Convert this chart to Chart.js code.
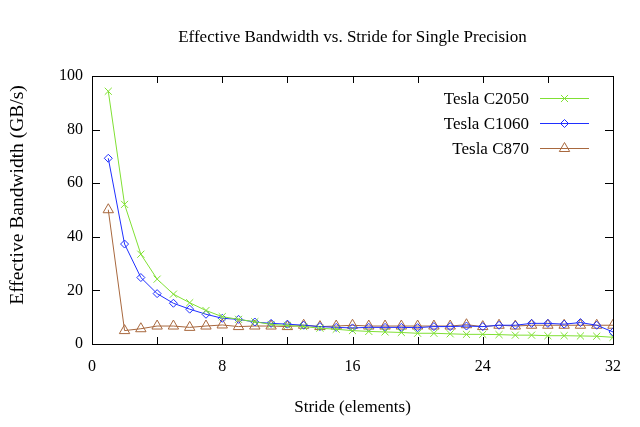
<!DOCTYPE html>
<html>
<head>
<meta charset="utf-8">
<script src="https://cdn.jsdelivr.net/npm/chart.js@4/dist/chart.umd.min.js"></script>
<style>
html,body{margin:0;padding:0;background:#fff;}
#wrap{width:640px;height:427px;}
</style>
</head>
<body>
<div id="wrap"><canvas id="c" width="640" height="427"></canvas></div>
<script>
const strides = [1,2,3,4,5,6,7,8,9,10,11,12,13,14,15,16,17,18,19,20,21,22,23,24,25,26,27,28,29,30,31,32];
const teslaC2050 = [94.3,52.1,33.5,24.2,18.6,15.4,12.5,10.2,9.2,8.3,7.3,6.9,6.5,5.9,5.5,5.0,4.7,4.5,4.3,4.0,4.0,3.8,3.6,3.6,3.5,3.3,3.3,3.1,3.1,3.0,2.9,2.5];
const teslaC1060 = [69.3,37.3,24.8,18.8,15.2,13.0,11.1,9.6,9.2,8.2,7.7,7.4,7.0,6.5,6.2,6.0,6.2,6.2,6.2,6.1,6.5,6.5,6.7,6.5,7.0,7.0,7.7,7.7,7.4,8.0,7.0,4.5];
const teslaC870 = [50.1,5.0,5.7,6.7,6.7,6.2,6.7,7.1,6.5,6.7,6.7,6.5,7.0,6.5,6.7,7.0,6.7,6.7,6.7,6.7,6.7,6.7,7.2,6.5,7.0,6.7,7.0,7.0,7.0,7.0,7.0,7.0];
const seriesLabels = ['Tesla C2050','Tesla C1060','Tesla C870'];
const xTickValues = [0,8,16,24,32];
const yTickValues = [0,20,40,60,80,100];
const yAxisTitle = 'Effective Bandwidth (GB/s)';

const FONT = 'Liberation Serif, "Times New Roman", Times, serif';
const colors = ['#80e034','#1f2fff','#a8683e'];
const styles = ['crossRot','rectRot','triangle'];
const radii = [5,4,6];

function pts(arr){ return strides.map((s,i)=>({x:s,y:arr[i]})); }

const datasets = [teslaC2050, teslaC1060, teslaC870].map((arr,i)=>({
  label: seriesLabels[i],
  data: pts(arr),
  borderColor: colors[i],
  backgroundColor: 'rgba(0,0,0,0)',
  borderWidth: 1,
  pointStyle: styles[i],
  pointRadius: radii[i],
  pointBorderWidth: 1,
  pointBorderColor: colors[i],
  pointBackgroundColor: 'rgba(0,0,0,0)',
  tension: 0
}));

const framePlugin = {
  id: 'frame',
  afterDraw(chart){
    const ctx = chart.ctx, a = chart.chartArea;
    const xs = chart.scales.x, ys = chart.scales.y;
    ctx.save();
    ctx.strokeStyle = '#000';
    ctx.lineWidth = 1;
    ctx.strokeRect(Math.round(a.left)+0.5, Math.round(a.top)+0.5, Math.round(a.right-a.left), Math.round(a.bottom-a.top));
    ctx.beginPath();
    for (let v = 0; v <= 32; v += 4) {
      const px = Math.round(xs.getPixelForValue(v)) + 0.5;
      ctx.moveTo(px, a.bottom); ctx.lineTo(px, a.bottom - 7);
      ctx.moveTo(px, a.top); ctx.lineTo(px, a.top + 7);
    }
    yTickValues.forEach(v => {
      const py = Math.round(ys.getPixelForValue(v)) + 0.5;
      ctx.moveTo(a.left, py); ctx.lineTo(a.left + 8, py);
      ctx.moveTo(a.right, py); ctx.lineTo(a.right - 8, py);
    });
    ctx.stroke();
    // y axis title (gnuplot places it slightly above the plot centre)
    ctx.save();
    ctx.translate(18, 195);
    ctx.rotate(-Math.PI / 2);
    ctx.font = '19.5px ' + FONT;
    ctx.fillStyle = '#000';
    ctx.textAlign = 'center';
    ctx.textBaseline = 'middle';
    ctx.fillText(yAxisTitle, 0, 0);
    ctx.restore();
    // legend
    ctx.font = '17px ' + FONT;
    ctx.textAlign = 'right';
    ctx.textBaseline = 'middle';
    chart.data.datasets.forEach((ds, i) => {
      const y = Math.round(97.5 + i * 25.3) + 0.5;
      ctx.fillStyle = '#000';
      ctx.fillText(ds.label, 529, y + 1);
      ctx.strokeStyle = colors[i];
      ctx.lineWidth = 1;
      ctx.beginPath();
      ctx.moveTo(540, y); ctx.lineTo(589, y);
      ctx.stroke();
      ctx.fillStyle = 'rgba(0,0,0,0)';
      ctx.strokeStyle = colors[i];
      Chart.helpers.drawPoint(ctx, {pointStyle: styles[i], radius: radii[i], borderWidth: 1, rotation: 0}, 564.5, y);
    });
    ctx.restore();
  }
};

new Chart(document.getElementById('c'), {
  type: 'line',
  data: { datasets },
  options: {
    responsive: false,
    animation: false,
    devicePixelRatio: 1,
    layout: { padding: { left: 0, right: 27, top: 0, bottom: 0 } },
    plugins: {
      legend: { display: false },
      tooltip: { enabled: false },
      title: {
        display: true,
        text: 'Effective Bandwidth vs. Stride for Single Precision',
        fullSize: false,
        color: '#000',
        font: { family: FONT, size: 17, weight: 'normal', lineHeight: 1.2 },
        padding: { top: 27, bottom: 28.6 }
      }
    },
    scales: {
      x: {
        type: 'linear',
        min: 0, max: 32,
        afterBuildTicks(scale){ scale.ticks = xTickValues.map(v => ({value: v})); },
        afterFit(scale){ scale.height = 83; },
        grid: { display: false, drawTicks: false },
        border: { display: false },
        ticks: { color: '#000', padding: 13, font: { family: FONT, size: 16 }, maxRotation: 0 },
        title: { display: true, text: 'Stride (elements)', color: '#000', font: { family: FONT, size: 17, lineHeight: 1.2 }, padding: { top: 8.8, bottom: 8.8 } }
      },
      y: {
        type: 'linear',
        min: 0, max: 100,
        afterBuildTicks(scale){ scale.ticks = yTickValues.map(v => ({value: v})); },
        afterFit(scale){ scale.width = 92; },
        grid: { display: false, drawTicks: false },
        border: { display: false },
        ticks: { color: '#000', padding: 9, font: { family: FONT, size: 16 } },
        title: { display: false, text: yAxisTitle }
      }
    }
  },
  plugins: [framePlugin]
});
</script>
</body>
</html>
